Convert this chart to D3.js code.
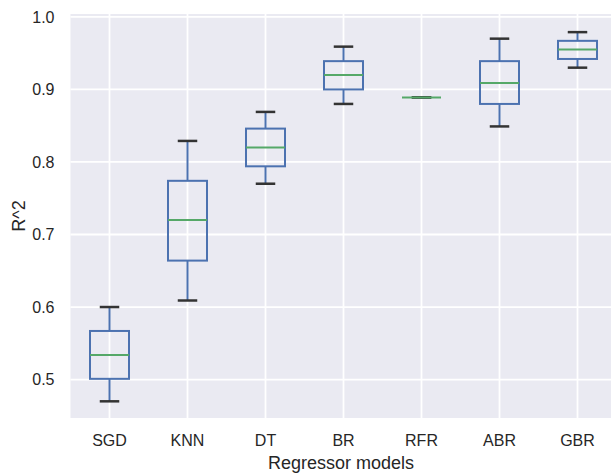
<!DOCTYPE html>
<html>
<head>
<meta charset="utf-8">
<script src="https://cdn.jsdelivr.net/npm/d3@7"></script>
<style>
    body { margin: 0; background: #fff; }
    text { font-family: "Liberation Sans", Arial, sans-serif; fill: #262626; }
</style>
</head>
<body>
<div id="chart"></div>
<script>
// R^2 per model
var models   = ["SGD", "KNN", "DT", "BR", "RFR", "ABR", "GBR"];
var whiskLo  = [0.470, 0.609, 0.770, 0.880, 0.889, 0.849, 0.930];
var q1       = [0.501, 0.664, 0.794, 0.900, 0.889, 0.880, 0.942];
var medians  = [0.534, 0.720, 0.820, 0.920, 0.889, 0.909, 0.955];
var q3       = [0.567, 0.774, 0.846, 0.939, 0.889, 0.939, 0.967];
var whiskHi  = [0.600, 0.829, 0.869, 0.959, 0.889, 0.970, 0.979];
var yTicks   = [0.5, 0.6, 0.7, 0.8, 0.9, 1.0];

var data = models.map(function(m, i) {
    return {name: m, lo: whiskLo[i], q1: q1[i], med: medians[i], q3: q3[i], hi: whiskHi[i]};
});

var W = 611, H = 475;
var margin = {top: 14, left: 70.5},
    width = 546,      // runs a bit past the right edge, like the original
    height = 404;

var svg = d3.select("#chart").append("svg")
    .attr("width", W)
    .attr("height", H);

var g = svg.append("g")
    .attr("transform", "translate(" + margin.left + "," + margin.top + ")");

var x = d3.scaleBand()
    .domain(models)
    .range([0, width]);

var y = d3.scaleLinear()
    .domain([0.447, 1.004])
    .range([height, 0]);

var bw = x.bandwidth() * 0.5;   // box width
var cw = bw * 0.5;              // cap width
function cx(d) { return x(d.name) + x.bandwidth() / 2; }

// background + grid
g.append("rect")
    .attr("width", width)
    .attr("height", height)
    .attr("fill", "#eaeaf2");

g.selectAll(".hgrid")
    .data(yTicks)
    .enter().append("line")
    .attr("class", "hgrid")
    .attr("x1", 0).attr("x2", width)
    .attr("y1", function(d) { return y(d); })
    .attr("y2", function(d) { return y(d); })
    .attr("stroke", "#fff")
    .attr("stroke-width", 1.8);

g.selectAll(".vgrid")
    .data(data)
    .enter().append("line")
    .attr("class", "vgrid")
    .attr("x1", cx).attr("x2", cx)
    .attr("y1", 0).attr("y2", height)
    .attr("stroke", "#fff")
    .attr("stroke-width", 1.8);

// axes (no ticks, no domain line)
var yAxis = d3.axisLeft(y).tickValues(yTicks).tickFormat(d3.format(".1f")).tickSize(0).tickPadding(16);
var xAxis = d3.axisBottom(x).tickSize(0).tickPadding(17);

g.append("g").call(yAxis)
    .call(function(s) { s.select(".domain").remove(); })
    .selectAll("text")
    .style("font-size", "16px")
    .attr("fill", "#262626");

g.append("g")
    .attr("transform", "translate(0," + height + ")")
    .call(xAxis)
    .call(function(s) { s.select(".domain").remove(); })
    .selectAll("text")
    .style("font-size", "16px")
    .attr("fill", "#262626");

// boxes
var box = g.selectAll(".box")
    .data(data)
    .enter().append("g")
    .attr("class", "box");

box.append("line")   // whiskers
    .attr("x1", cx).attr("x2", cx)
    .attr("y1", function(d) { return y(d.hi); })
    .attr("y2", function(d) { return y(d.q3); })
    .attr("stroke", "#4c72b0").attr("stroke-width", 2);

box.append("line")
    .attr("x1", cx).attr("x2", cx)
    .attr("y1", function(d) { return y(d.q1); })
    .attr("y2", function(d) { return y(d.lo); })
    .attr("stroke", "#4c72b0").attr("stroke-width", 2);

box.append("rect")
    .attr("x", function(d) { return cx(d) - bw / 2; })
    .attr("y", function(d) { return y(d.q3); })
    .attr("width", bw)
    .attr("height", function(d) { return y(d.q1) - y(d.q3); })
    .attr("fill", "none")
    .attr("stroke", "#4c72b0").attr("stroke-width", 2);

box.selectAll(".cap")
    .data(function(d) { return [d.lo, d.hi].map(function(v) { return {c: cx(d), v: v}; }); })
    .enter().append("line")
    .attr("class", "cap")
    .attr("x1", function(d) { return d.c - cw / 2; })
    .attr("x2", function(d) { return d.c + cw / 2; })
    .attr("y1", function(d) { return y(d.v); })
    .attr("y2", function(d) { return y(d.v); })
    .attr("stroke", "#333").attr("stroke-width", 2.5);

box.append("line")   // median
    .attr("x1", function(d) { return cx(d) - bw / 2; })
    .attr("x2", function(d) { return cx(d) + bw / 2; })
    .attr("y1", function(d) { return y(d.med); })
    .attr("y2", function(d) { return y(d.med); })
    .attr("stroke", "#55a868").attr("stroke-width", 2);

// axis labels
svg.append("text")
    .attr("x", margin.left + width / 2 - 2.5)
    .attr("y", 469)
    .attr("text-anchor", "middle")
    .style("font-size", "18px")
    .text("Regressor models");

svg.append("text")
    .attr("transform", "translate(25," + (margin.top + height / 2) + ") rotate(-90)")
    .attr("text-anchor", "middle")
    .style("font-size", "18px")
    .text("R^2");
</script>
</body>
</html>
